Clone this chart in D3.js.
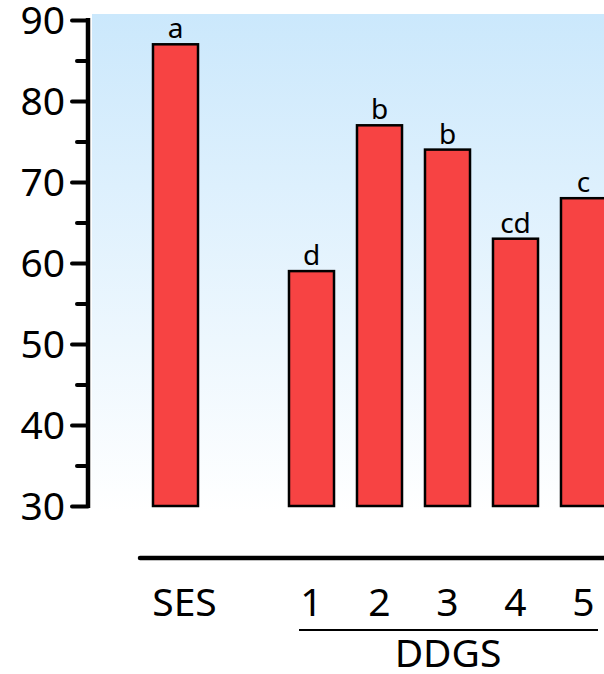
<!DOCTYPE html>
<html><head><meta charset="utf-8">
<script src="https://cdn.jsdelivr.net/npm/d3@7"></script>
<style>html,body{margin:0;padding:0;background:#fff;}svg{display:block;}</style>
</head><body>
<svg id="c" width="604" height="674"></svg>
<script>
const categories = ["SES","1","2","3","4","5"];
const slots = ["SES","gap","1","2","3","4","5"];
const values = [87,59,77,74,63,68];
const letters = ["a","d","b","b","cd","c"];
const majorTicks = [30,40,50,60,70,80,90];
const minorTicks = [35,45,55,65,75,85];
const groupLabel = "DDGS";

const svg = d3.select("#c");
const font = "'Noto Sans', 'Open Sans', sans-serif";

const y = d3.scaleLinear().domain([30,90]).range([506,20]);
const x = d3.scaleBand().domain(slots).range([141.5, 617.5]).paddingInner(0.338).paddingOuter(0.169);

// background gradient
const defs = svg.append("defs");
const g = defs.append("linearGradient").attr("id","bg").attr("x1",0).attr("y1",0).attr("x2",0).attr("y2",1);
g.append("stop").attr("offset","0%").attr("stop-color","#cbe8fc");
g.append("stop").attr("offset","100%").attr("stop-color","#ffffff");
svg.append("rect").attr("x",92).attr("y",14).attr("width",512).attr("height",498).attr("fill","url(#bg)");

// bars
svg.selectAll("rect.bar").data(categories).enter().append("rect")
  .attr("class","bar")
  .attr("x", d => x(d))
  .attr("width", x.bandwidth())
  .attr("y", (d,i) => y(values[i]))
  .attr("height", (d,i) => y(30) - y(values[i]))
  .attr("fill","#f74343").attr("stroke","#000").attr("stroke-width",2.5);

// letters
svg.selectAll("text.let").data(categories).enter().append("text")
  .attr("class","let")
  .attr("x", d => x(d) + x.bandwidth()/2)
  .attr("y", (d,i) => y(values[i]) - 6)
  .attr("text-anchor","middle")
  .attr("font-family", font).attr("font-size", 28).attr("fill","#000")
  .text((d,i) => letters[i]);

// y axis major
const axMaj = svg.append("g").attr("transform","translate(88,0)")
  .call(d3.axisLeft(y).tickValues(majorTicks).tickSize(16).tickPadding(7).tickFormat(d3.format("d")));
axMaj.select(".domain").attr("stroke","#000").attr("stroke-width",4.5).attr("d", `M0,${y(30)+2}V${y(90)-2}`);
axMaj.selectAll(".tick line").attr("stroke","#000").attr("stroke-width",4).attr("stroke-linecap","round");
axMaj.selectAll(".tick text").attr("font-family", font).attr("font-size", 39).attr("fill","#000").attr("dy","0.35em");

const axMin = svg.append("g").attr("transform","translate(88,0)")
  .call(d3.axisLeft(y).tickValues(minorTicks).tickSize(11).tickFormat(""));
axMin.select(".domain").remove();
axMin.selectAll(".tick line").attr("stroke","#000").attr("stroke-width",4).attr("stroke-linecap","round");

// baseline
svg.append("line").attr("x1",140).attr("x2",604).attr("y1",558).attr("y2",558)
  .attr("stroke","#000").attr("stroke-width",4.5).attr("stroke-linecap","round");

// category labels
svg.selectAll("text.cat").data(categories).enter().append("text")
  .attr("class","cat")
  .attr("x", d => x(d) + x.bandwidth()/2 + (d==="SES"?9:0))
  .attr("y", 616)
  .attr("text-anchor","middle")
  .attr("font-family", font).attr("font-size", 39).attr("fill","#000")
  .text(d => d);

// group line + label
svg.append("line").attr("x1",299).attr("x2",598).attr("y1",630).attr("y2",630)
  .attr("stroke","#000").attr("stroke-width",2);
svg.append("text").attr("x",448).attr("y",667).attr("text-anchor","middle")
  .attr("font-family", font).attr("font-size", 39).attr("fill","#000").text(groupLabel);
</script>
</body></html>
